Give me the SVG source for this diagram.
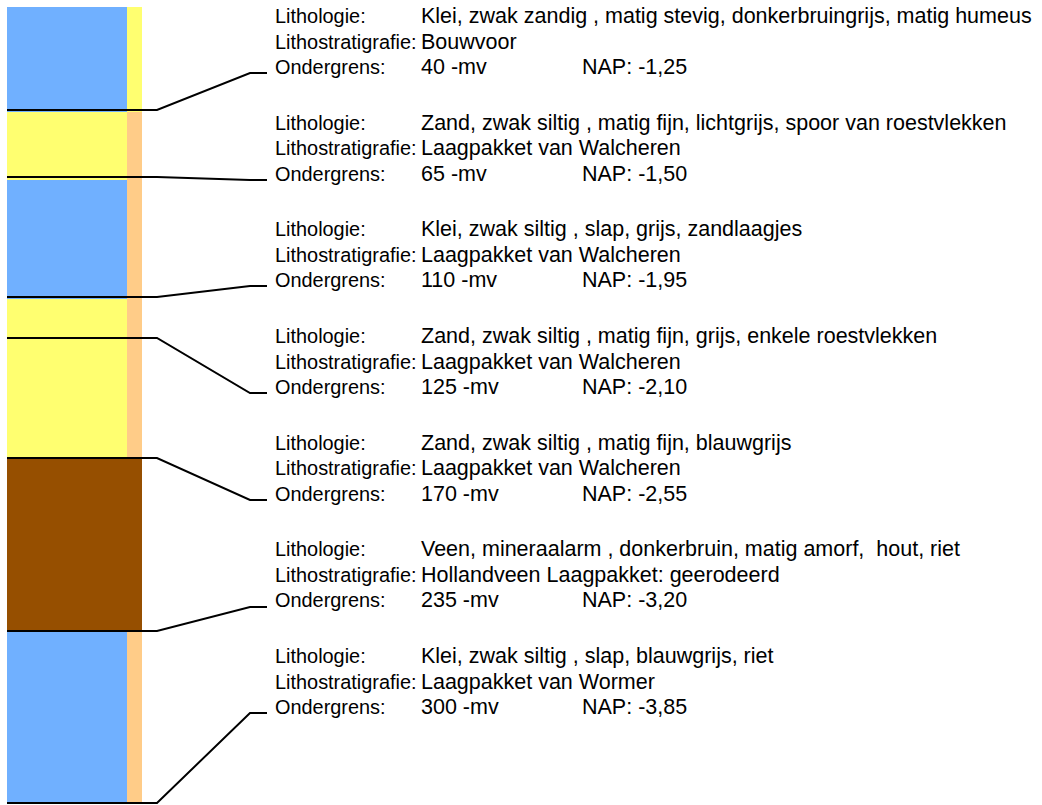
<svg xmlns="http://www.w3.org/2000/svg" width="1042" height="805" viewBox="0 0 1042 805">
<style>
.t{font-family:"Liberation Sans",Arial,sans-serif;font-size:19.9px;fill:#000}
.v{font-family:"Liberation Sans",Arial,sans-serif;font-size:21.5px;fill:#000;white-space:pre}
.c{fill:none;stroke:#000;stroke-width:2}
.blue{fill:#70B0FF}.yel{fill:#FFFF70}.peach{fill:#FFCC88}.brown{fill:#964F00}
</style>
<rect width="1042" height="805" fill="#fff"/>
<g id="column">
<rect class="blue" x="7" y="7" width="120" height="105"/>
<rect class="yel" x="127" y="7" width="15" height="105"/>
<rect class="yel" x="7" y="112" width="120" height="68"/>
<rect class="peach" x="127" y="112" width="15" height="68"/>
<rect class="blue" x="7" y="180" width="120" height="119"/>
<rect class="peach" x="127" y="180" width="15" height="119"/>
<rect class="yel" x="7" y="299" width="120" height="40"/>
<rect class="peach" x="127" y="299" width="15" height="40"/>
<rect class="yel" x="7" y="339" width="120" height="120"/>
<rect class="peach" x="127" y="339" width="15" height="120"/>
<rect class="brown" x="7" y="459" width="135" height="173"/>
<rect class="blue" x="7" y="632" width="120" height="171"/>
<rect class="peach" x="127" y="632" width="15" height="171"/>
</g>
<g id="connectors">
<polyline class="c" points="7,110 157,110 250,73 267,73"/>
<polyline class="c" points="7,177 157,177 250,180 267,180"/>
<polyline class="c" points="7,297 157,297 250,286 267,286"/>
<polyline class="c" points="7,338 157,338 250,393 267,393"/>
<polyline class="c" points="7,458 157,458 250,500 267,500"/>
<polyline class="c" points="7,631 157,631 250,607 267,607"/>
<polyline class="c" points="7,803 157,803 250,713 267,713"/>
</g>
<g id="layer1">
<text class="t" x="275" y="23">Lithologie:</text><text class="v" x="421" y="23">Klei, zwak zandig , matig stevig, donkerbruingrijs, matig humeus</text>
<text class="t" x="275" y="48.5">Lithostratigrafie:</text><text class="v" x="421" y="48.5">Bouwvoor</text>
<text class="t" x="275" y="74">Ondergrens:</text><text class="v" x="421" y="74">40 -mv</text><text class="v" x="582" y="74">NAP: -1,25</text>
</g>
<g id="layer2">
<text class="t" x="275" y="129.7">Lithologie:</text><text class="v" x="421" y="129.7">Zand, zwak siltig , matig fijn, lichtgrijs, spoor van roestvlekken</text>
<text class="t" x="275" y="155.2">Lithostratigrafie:</text><text class="v" x="421" y="155.2">Laagpakket van Walcheren</text>
<text class="t" x="275" y="180.7">Ondergrens:</text><text class="v" x="421" y="180.7">65 -mv</text><text class="v" x="582" y="180.7">NAP: -1,50</text>
</g>
<g id="layer3">
<text class="t" x="275" y="236.3">Lithologie:</text><text class="v" x="421" y="236.3">Klei, zwak siltig , slap, grijs, zandlaagjes</text>
<text class="t" x="275" y="261.8">Lithostratigrafie:</text><text class="v" x="421" y="261.8">Laagpakket van Walcheren</text>
<text class="t" x="275" y="287.3">Ondergrens:</text><text class="v" x="421" y="287.3">110 -mv</text><text class="v" x="582" y="287.3">NAP: -1,95</text>
</g>
<g id="layer4">
<text class="t" x="275" y="343">Lithologie:</text><text class="v" x="421" y="343">Zand, zwak siltig , matig fijn, grijs, enkele roestvlekken</text>
<text class="t" x="275" y="368.5">Lithostratigrafie:</text><text class="v" x="421" y="368.5">Laagpakket van Walcheren</text>
<text class="t" x="275" y="394">Ondergrens:</text><text class="v" x="421" y="394">125 -mv</text><text class="v" x="582" y="394">NAP: -2,10</text>
</g>
<g id="layer5">
<text class="t" x="275" y="449.7">Lithologie:</text><text class="v" x="421" y="449.7">Zand, zwak siltig , matig fijn, blauwgrijs</text>
<text class="t" x="275" y="475.2">Lithostratigrafie:</text><text class="v" x="421" y="475.2">Laagpakket van Walcheren</text>
<text class="t" x="275" y="500.7">Ondergrens:</text><text class="v" x="421" y="500.7">170 -mv</text><text class="v" x="582" y="500.7">NAP: -2,55</text>
</g>
<g id="layer6">
<text class="t" x="275" y="556.3">Lithologie:</text><text class="v" x="421" y="556.3" xml:space="preserve">Veen, mineraalarm , donkerbruin, matig amorf,  hout, riet</text>
<text class="t" x="275" y="581.8">Lithostratigrafie:</text><text class="v" x="421" y="581.8">Hollandveen Laagpakket: geerodeerd</text>
<text class="t" x="275" y="607.3">Ondergrens:</text><text class="v" x="421" y="607.3">235 -mv</text><text class="v" x="582" y="607.3">NAP: -3,20</text>
</g>
<g id="layer7">
<text class="t" x="275" y="663">Lithologie:</text><text class="v" x="421" y="663">Klei, zwak siltig , slap, blauwgrijs, riet</text>
<text class="t" x="275" y="688.5">Lithostratigrafie:</text><text class="v" x="421" y="688.5">Laagpakket van Wormer</text>
<text class="t" x="275" y="714">Ondergrens:</text><text class="v" x="421" y="714">300 -mv</text><text class="v" x="582" y="714">NAP: -3,85</text>
</g>
</svg>
